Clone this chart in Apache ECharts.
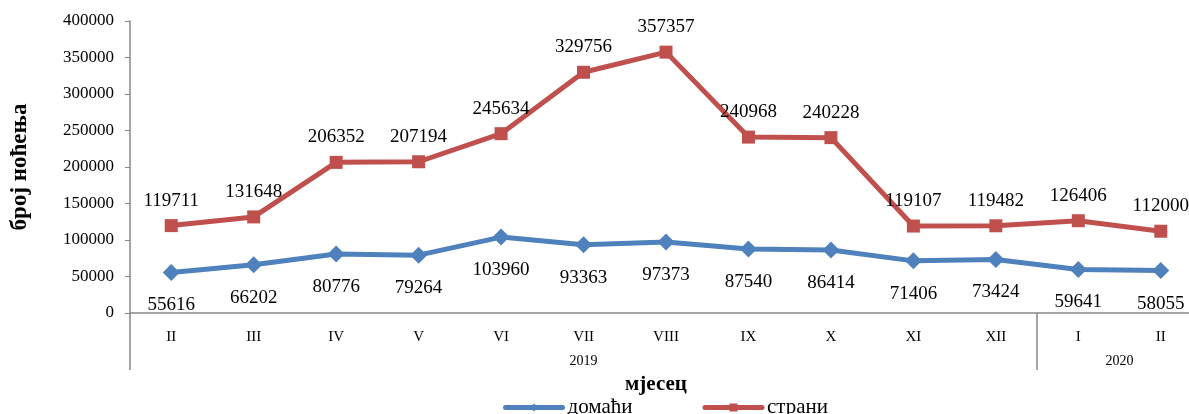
<!DOCTYPE html>
<html><head><meta charset="utf-8">
<script src="https://cdn.jsdelivr.net/npm/echarts@6/dist/echarts.min.js"></script>
<style>html,body{margin:0;padding:0;background:#fff;overflow:hidden}#c{width:1202px;height:414px}</style>
</head><body><div id="c"></div>
<script>
var months = ['II','III','IV','V','VI','VII','VIII','IX','X','XI','XII','I','II'];
var yearLabels = ['','','','','','','','','','','','2019','','','','','','','','','','','','','2020','',''];
var yearSepIdx = [0, 22];
var domaci = [55616, 66202, 80776, 79264, 103960, 93363, 97373, 87540, 86414, 71406, 73424, 59641, 58055];
var strani = [119711, 131648, 206352, 207194, 245634, 329756, 357357, 240968, 240228, 119107, 119482, 126406, 112000];
var yTicks = [0, 50000, 100000, 150000, 200000, 250000, 300000, 350000, 400000];

var F = 'Liberation Serif, DejaVu Serif, serif';
var chart = echarts.init(document.getElementById('c'));
chart.setOption({
  animation: false,
  textStyle: {fontFamily: F},
  grid: {left: 130, top: 21, right: 0, height: 292, containLabel: false},
  legend: {
    left: 498, top: 392, itemWidth: 57, itemHeight: 10, itemGap: 70,
    lineStyle: {width: 5, cap: 'round'},
    textStyle: {fontFamily: F, fontSize: 21, color: '#000'},
    data: ['домаћи', 'страни']
  },
  xAxis: [{
    type: 'category', data: months, position: 'bottom',
    axisLine: {lineStyle: {color: '#888', width: 1.5}},
    axisTick: {show: false},
    axisLabel: {color: '#000', fontSize: 15, fontFamily: F, margin: 17},
    name: 'мјесец', nameLocation: 'middle', nameGap: 61,
    nameTextStyle: {fontFamily: F, fontSize: 21, fontWeight: 'bold', color: '#000', padding: [0, 20, 0, 0]}
  }, {
    type: 'category', data: yearLabels, position: 'bottom', boundaryGap: false,
    axisLine: {show: false},
    axisTick: {show: true, length: 57, interval: function (i) { return yearSepIdx.indexOf(i) >= 0; },
      lineStyle: {color: '#888', width: 1.5}},
    axisLabel: {color: '#000', fontSize: 14, fontFamily: F, margin: 41,
      interval: function (i, v) { return v !== ''; }}
  }],
  yAxis: {
    type: 'value', min: 0, max: 400000, interval: 50000,
    axisLine: {show: true, lineStyle: {color: '#888', width: 1.5}},
    axisTick: {show: true, length: 5, lineStyle: {color: '#888'}},
    splitLine: {show: false},
    axisLabel: {color: '#000', fontSize: 17, fontFamily: F, margin: 16,
      formatter: function (v) { return yTicks.indexOf(v) >= 0 ? String(v) : ''; }},
    name: 'број ноћења', nameLocation: 'middle', nameGap: 98, nameRotate: 90,
    nameTextStyle: {fontFamily: F, fontSize: 23, fontWeight: 'bold', color: '#000'}
  },
  series: [{
    name: 'домаћи', type: 'line', data: domaci,
    symbol: 'diamond', symbolSize: 17,
    itemStyle: {color: '#4F81BD'}, lineStyle: {color: '#4F81BD', width: 5},
    label: {show: true, position: 'bottom', distance: 15, color: '#000', fontSize: 19, fontFamily: F}
  }, {
    name: 'страни', type: 'line', data: strani,
    symbol: 'rect', symbolSize: 13,
    itemStyle: {color: '#C0504D'}, lineStyle: {color: '#C0504D', width: 5},
    label: {show: true, position: 'top', distance: 9, color: '#000', fontSize: 19, fontFamily: F}
  }]
});
</script></body></html>
